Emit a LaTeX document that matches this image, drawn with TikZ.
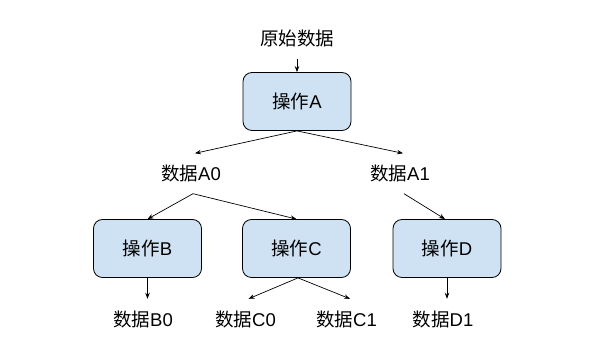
\documentclass[tikz,border=0pt]{standalone}
\usepackage{fontspec}
\setmainfont{Liberation Sans}
\newfontfamily\cjk{Noto Sans CJK SC}
\usepackage{tikz}
\usetikzlibrary{arrows.meta}
\definecolor{opfill}{RGB}{207,226,243}
\newcommand{\zh}[1]{{\cjk #1}}

\begin{document}
\begin{tikzpicture}[x=1pt,y=-1pt,
  every node/.style={font=\fontsize{18.5}{20}\selectfont},
  opbox/.style={draw=black,line width=0.8pt,fill=opfill,rounded corners=9pt,
    minimum width=108pt,minimum height=58pt,inner sep=0pt},
  datum/.style={inner sep=0pt,minimum height=40pt},
  arr/.style={-{Stealth[length=6pt,width=4.5pt]},line width=0.7pt}]
\useasboundingbox (0,0) rectangle (611,363);
\node[datum] (raw) at (297,38.5) {\zh{原始数据}};
\node[opbox] (opA) at (297,101.5) {\zh{操作}A};
\node[datum] (dA0) at (191,173.5) {\zh{数据}A0};
\node[datum] (dA1) at (400,173.5) {\zh{数据}A1};
\node[opbox] (opB) at (147.5,248.5) {\zh{操作}B};
\node[opbox] (opC) at (296.5,248.5) {\zh{操作}C};
\node[opbox] (opD) at (447,248.5) {\zh{操作}D};
\node[datum] (dB0) at (143,319) {\zh{数据}B0};
\node[datum] (dC0) at (245.5,319) {\zh{数据}C0};
\node[datum] (dC1) at (346.5,319) {\zh{数据}C1};
\node[datum] (dD1) at (443,319) {\zh{数据}D1};
\draw[arr] (raw.south) -- (opA.north);
\draw[arr] (opA.south) -- ([xshift=4pt]dA0.north);
\draw[arr] (opA.south) -- ([xshift=3pt]dA1.north);
\draw[arr] ([xshift=2pt]dA0.south) -- (opB.north);
\draw[arr] ([xshift=2pt]dA0.south) -- (opC.north);
\draw[arr] ([xshift=4pt]dA1.south) -- ([xshift=-2pt]opD.north);
\draw[arr] (opB.south) -- (opB.south |- dB0.north);
\draw[arr] ([xshift=1.5pt]opC.south) -- ([xshift=3pt]dC0.north);
\draw[arr] ([xshift=1.5pt]opC.south) -- ([xshift=3.5pt]dC1.north);
\draw[arr] (opD.south) -- (opD.south |- dD1.north);
\end{tikzpicture}
\end{document}
